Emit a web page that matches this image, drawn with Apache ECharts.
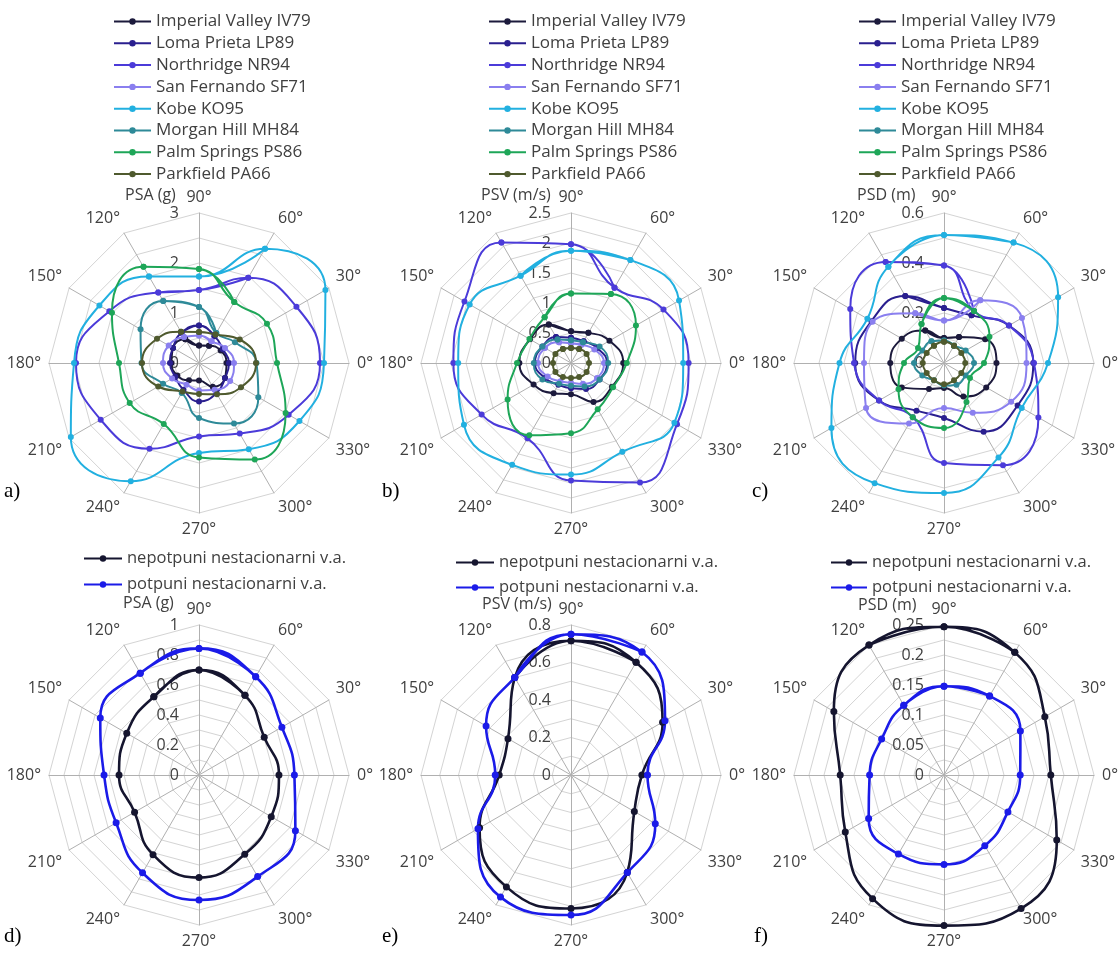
<!DOCTYPE html>
<html><head><meta charset="utf-8">
<script src="https://cdn.jsdelivr.net/npm/echarts@6/dist/echarts.min.js"></script>
<style>html,body{margin:0;padding:0;background:#fff}#c{width:1119px;height:956px}</style>
</head><body><div id="c"></div>
<script>
// ---------- data ----------
const ANGLES = [0, 30, 60, 90, 120, 150, 180, 210, 240, 270, 300, 330];
const EQ_NAMES = ['Imperial Valley IV79', 'Loma Prieta LP89', 'Northridge NR94', 'San Fernando SF71',
  'Kobe KO95', 'Morgan Hill MH84', 'Palm Springs PS86', 'Parkfield PA66'];
const VA_NAMES = ['nepotpuni nestacionarni v.a.', 'potpuni nestacionarni v.a.'];

// values listed at ANGLES order (0°,30°,...,330°)
const psaTop = [
  [0.55, 0.50, 0.40, 0.35, 0.55, 0.60, 0.55, 0.50, 0.40, 0.35, 0.55, 0.60],
  [0.60, 0.55, 0.62, 0.75, 0.70, 0.60, 0.58, 0.55, 0.62, 0.77, 0.70, 0.60],
  [2.42, 2.25, 1.97, 1.46, 1.63, 2.07, 2.46, 2.27, 1.98, 1.47, 1.63, 2.07],
  [0.70, 0.60, 0.50, 0.55, 0.60, 0.70, 0.72, 0.62, 0.50, 0.55, 0.62, 0.72],
  [2.50, 2.92, 2.64, 1.73, 2.00, 2.30, 2.50, 2.96, 2.73, 1.80, 1.99, 2.32],
  [1.15, 0.83, 0.69, 1.12, 1.43, 1.35, 1.15, 0.83, 0.69, 1.10, 1.40, 1.37],
  [1.56, 1.57, 1.41, 1.88, 2.22, 2.01, 1.60, 1.60, 1.41, 1.89, 2.23, 2.00],
  [1.14, 0.94, 0.66, 0.62, 0.72, 0.97, 1.14, 0.94, 0.66, 0.62, 0.72, 0.97]
];
const psvTop = [
  [0.87, 0.74, 0.58, 0.53, 0.74, 0.79, 0.86, 0.72, 0.58, 0.52, 0.75, 0.79],
  [0.60, 0.50, 0.42, 0.42, 0.50, 0.55, 0.60, 0.50, 0.42, 0.42, 0.50, 0.55],
  [1.96, 1.78, 1.45, 1.98, 2.32, 2.05, 1.96, 1.72, 1.45, 1.96, 2.30, 2.04],
  [0.55, 0.45, 0.35, 0.33, 0.40, 0.50, 0.55, 0.45, 0.35, 0.33, 0.40, 0.50],
  [1.87, 2.08, 1.98, 1.87, 1.68, 1.95, 1.88, 2.06, 1.96, 1.86, 1.71, 1.99],
  [0.62, 0.55, 0.40, 0.38, 0.45, 0.55, 0.62, 0.55, 0.40, 0.38, 0.45, 0.55],
  [0.93, 1.25, 1.33, 1.16, 0.88, 0.80, 0.90, 1.22, 1.39, 1.17, 0.89, 0.81],
  [0.30, 0.30, 0.27, 0.25, 0.27, 0.30, 0.30, 0.30, 0.27, 0.25, 0.27, 0.30]
];
const psdTop = [
  [0.210, 0.190, 0.120, 0.100, 0.150, 0.195, 0.215, 0.195, 0.120, 0.100, 0.155, 0.195],
  [0.357, 0.300, 0.220, 0.220, 0.310, 0.335, 0.355, 0.300, 0.220, 0.220, 0.317, 0.340],
  [0.360, 0.300, 0.240, 0.390, 0.467, 0.433, 0.360, 0.300, 0.250, 0.400, 0.472, 0.436],
  [0.330, 0.360, 0.290, 0.170, 0.230, 0.330, 0.320, 0.360, 0.280, 0.180, 0.230, 0.310],
  [0.416, 0.527, 0.556, 0.512, 0.445, 0.354, 0.418, 0.520, 0.555, 0.520, 0.436, 0.359],
  [0.120, 0.100, 0.080, 0.090, 0.100, 0.100, 0.120, 0.100, 0.080, 0.090, 0.100, 0.100],
  [0.160, 0.210, 0.240, 0.260, 0.180, 0.120, 0.160, 0.210, 0.250, 0.260, 0.180, 0.120],
  [0.085, 0.080, 0.080, 0.085, 0.080, 0.080, 0.085, 0.080, 0.080, 0.085, 0.080, 0.080]
];
const psaBottom = [
  [0.533, 0.502, 0.613, 0.700, 0.602, 0.556, 0.533, 0.496, 0.613, 0.684, 0.610, 0.556],
  [0.636, 0.638, 0.756, 0.844, 0.784, 0.760, 0.633, 0.638, 0.753, 0.833, 0.782, 0.742]
];
const psvBottom = [
  [0.378, 0.564, 0.694, 0.716, 0.600, 0.388, 0.383, 0.563, 0.689, 0.712, 0.600, 0.390],
  [0.408, 0.579, 0.757, 0.751, 0.600, 0.523, 0.404, 0.573, 0.752, 0.747, 0.601, 0.519]
];
const psdBottom = [
  [0.178, 0.194, 0.236, 0.247, 0.250, 0.212, 0.173, 0.190, 0.238, 0.251, 0.257, 0.217],
  [0.127, 0.147, 0.152, 0.148, 0.134, 0.120, 0.124, 0.145, 0.152, 0.149, 0.136, 0.123]
];
const RADIUS_TICKS = {a: 1, b: 0.5, c: 0.2, d: 0.2, e: 0.2, f: 0.05};

// ---------- styling / layout ----------
const EQ_COLORS = ['#1c1a3c', '#2a1f8f', '#4b3bd9', '#8a7fef', '#22b0e0', '#2e8a98', '#1ea658', '#4f5a2e'];
const VA_COLORS = ['#15152f', '#1b1be8'];
const FONT = '"Open Sans", Lato, sans-serif';
const TXT = '#404040';

const panels = [
  {key: 'a', cx: 199, cy: 363, max: 3,    rings: 6,  title: 'PSA (g)',   tx: 125, ty: 187, lx: 4,   ly: 481, data: psaTop, names: EQ_NAMES, colors: EQ_COLORS, lgx: 113, lgy: 13, iw: 37, gap: 4.8, big: false},
  {key: 'b', cx: 571, cy: 363, max: 2.5,  rings: 10, title: 'PSV (m/s)', tx: 481, ty: 187, lx: 382, ly: 481, data: psvTop, names: EQ_NAMES, colors: EQ_COLORS, lgx: 488, lgy: 13, iw: 37, gap: 4.8, big: false},
  {key: 'c', cx: 944, cy: 363, max: 0.6,  rings: 6,  title: 'PSD (m)',   tx: 857, ty: 187, lx: 752, ly: 481, data: psdTop, names: EQ_NAMES, colors: EQ_COLORS, lgx: 858, lgy: 13, iw: 37, gap: 4.8, big: false},
  {key: 'd', cx: 199, cy: 775, max: 1,    rings: 10, title: 'PSA (g)',   tx: 123, ty: 595, lx: 4,   ly: 926, data: psaBottom, names: VA_NAMES, colors: VA_COLORS, lgx: 83,  lgy: 550, iw: 38, gap: 9, big: true},
  {key: 'e', cx: 571, cy: 775, max: 0.8,  rings: 8,  title: 'PSV (m/s)', tx: 482, ty: 596, lx: 382, ly: 926, data: psvBottom, names: VA_NAMES, colors: VA_COLORS, lgx: 455, lgy: 554, iw: 38, gap: 8, big: true},
  {key: 'f', cx: 944, cy: 775, max: 0.25, rings: 10, title: 'PSD (m)',   tx: 858, ty: 597, lx: 754, ly: 926, data: psdBottom, names: VA_NAMES, colors: VA_COLORS, lgx: 830, lgy: 554, iw: 36, gap: 8, big: true}
];
const R = 150;       // outer grid radius (px)
const K = 1.15;      // polar extent enlarged so smoothed curves are not cut at the outer ring

// wrap values so the smoothed curve closes (angles measured from 90° counter-clockwise)
function closedData(vals) {
  const out = [];
  for (let k = -1; k <= 13; k++) {
    const p = 90 + 30 * k;
    const idx = ANGLES.indexOf(((p % 360) + 360) % 360);
    out.push([vals[idx], p]);
  }
  return out;
}

const option = {
  backgroundColor: '#fff',
  animation: false,
  title: [], legend: [], radar: [], polar: [], angleAxis: [], radiusAxis: [], series: []
};

panels.forEach((p, i) => {
  const step = RADIUS_TICKS[p.key];
  option.radar.push({
    center: [p.cx, p.cy], radius: R, startAngle: 90, splitNumber: p.rings, shape: 'polygon',
    indicator: ANGLES.map(() => ({max: p.max, min: 0})),
    axisName: {show: false},
    splitArea: {show: false},
    splitLine: {lineStyle: {color: '#d4d4d4', width: 1}},
    axisLine: {lineStyle: {color: '#b0b0b0', width: 1}},
    axisTick: {show: false}, axisLabel: {show: false}
  });
  option.polar.push({center: [p.cx, p.cy], radius: R * K});
  option.angleAxis.push({
    polarIndex: i, type: 'value', min: 90, max: 450, interval: 30, startAngle: 90, clockwise: false,
    axisLine: {show: false}, axisTick: {show: false}, splitLine: {show: false},
    axisLabel: {
      margin: 8 - R * (K - 1), color: TXT, fontSize: 16, fontFamily: FONT,
      formatter: v => (v >= 450 ? '' : (v % 360) + '°')
    }
  });
  option.radiusAxis.push({
    polarIndex: i, type: 'value', min: 0, max: p.max * K, interval: step,
    axisLine: {show: false}, axisTick: {show: false}, splitLine: {show: false},
    axisLabel: {color: TXT, fontSize: 16, fontFamily: FONT, margin: 20,
      formatter: v => (v > p.max * 1.0001 ? '' : String(+v.toFixed(3)))}
  });
  option.title.push({text: p.title, left: p.tx, top: p.ty, padding: 0,
    textStyle: {fontSize: 16, fontWeight: 'normal', color: TXT, fontFamily: FONT}});
  option.title.push({text: p.key + ')', left: p.lx, top: p.ly, padding: 0,
    textStyle: {fontSize: 21, fontWeight: 'normal', color: '#000', fontFamily: '"Liberation Serif", serif'}});
  option.legend.push({
    orient: 'vertical', left: p.lgx, top: p.lgy, padding: 0,
    itemWidth: p.iw, itemHeight: 8, itemGap: p.gap,
    textStyle: {fontSize: p.big ? 16.5 : 17, color: TXT, fontFamily: FONT, lineHeight: 16},
    data: p.names
  });
  p.data.forEach((vals, s) => {
    option.series.push({
      type: 'line', name: p.names[s], coordinateSystem: 'polar', polarIndex: i,
      smooth: 0.5, symbol: 'circle', symbolSize: p.big ? 7 : 6, clip: false,
      color: p.colors[s],
      lineStyle: {width: p.big ? 2.6 : 2, color: p.colors[s]},
      itemStyle: {color: p.colors[s]},
      data: closedData(vals)
    });
  });
});

const chart = echarts.init(document.getElementById('c'), null, {renderer: 'canvas'});
chart.setOption(option);
</script>
</body></html>
